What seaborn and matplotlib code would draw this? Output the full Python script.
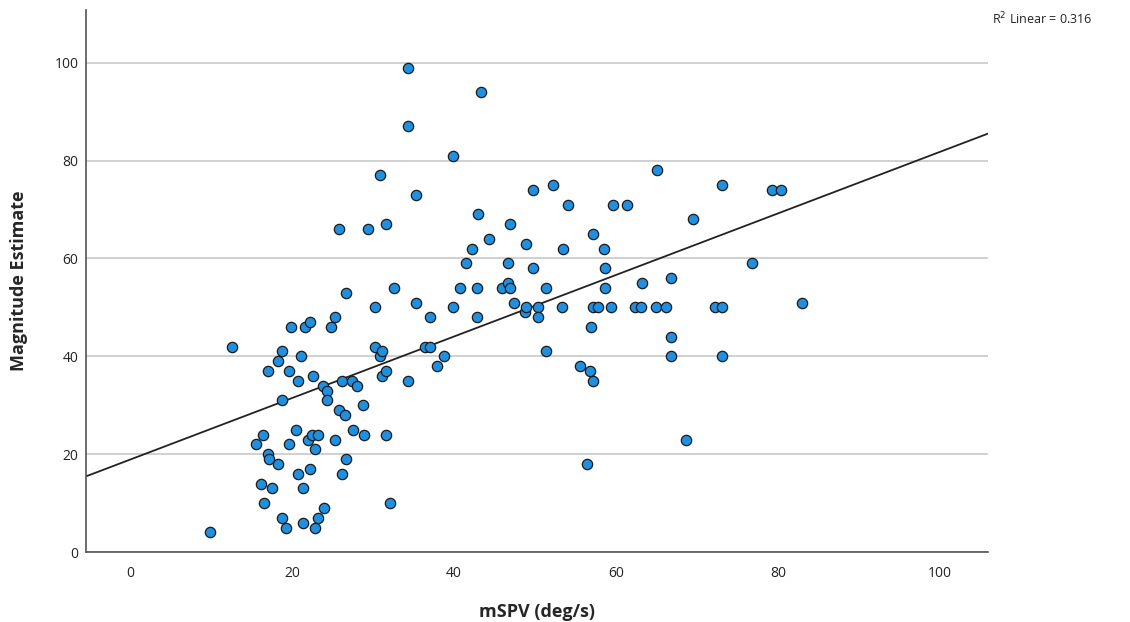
import numpy as np
import pandas as pd
import matplotlib
matplotlib.use("Agg")
import matplotlib.pyplot as plt
import seaborn as sns

mspv = [9.9, 12.6, 15.6, 16.4, 16.2, 16.5, 17.0, 17.0, 17.1, 17.5,
        18.3, 18.7, 18.3, 18.7, 18.7, 19.3, 19.6, 19.6, 19.9, 20.5,
        20.7, 20.7, 21.1, 21.4, 21.4, 21.6, 22.2, 22.0, 22.2, 22.6,
        22.5, 22.8, 22.8, 23.2, 23.2, 23.8, 24.0, 24.3, 24.3, 24.8,
        25.3, 25.3, 25.8, 25.8, 26.2, 26.2, 26.5, 26.7, 26.7, 27.4,
        27.5, 28.0, 28.8, 28.9, 29.4, 30.2, 30.2, 30.9, 30.9, 31.1,
        31.1, 31.6, 31.6, 31.6, 32.1, 32.6, 34.3, 34.3, 34.3, 35.3,
        35.3, 36.4, 37.0, 37.0, 37.9, 38.8, 39.9, 39.9, 40.7, 41.5,
        42.2, 42.8, 42.8, 43.3, 43.0, 44.3, 45.9, 46.7, 46.7, 46.9,
        46.9, 47.4, 48.8, 48.9, 48.9, 49.8, 49.8, 50.4, 50.4, 51.4,
        51.4, 52.2, 53.3, 53.5, 54.1, 55.6, 56.4, 56.8, 56.9, 57.2,
        57.2, 57.2, 57.8, 58.5, 58.6, 58.6, 59.4, 59.6, 61.4, 62.3,
        63.1, 63.2, 64.9, 65.1, 66.2, 66.8, 66.8, 66.8, 68.6, 69.5,
        72.2, 73.1, 73.1, 73.1, 76.8, 79.3, 80.4, 83.0]

magnitude = [4, 42, 22, 24, 14, 10, 37, 20, 19, 13,
             39, 41, 18, 31, 7, 5, 37, 22, 46, 25,
             35, 16, 40, 13, 6, 46, 47, 23, 17, 36,
             24, 21, 5, 24, 7, 34, 9, 33, 31, 46,
             48, 23, 66, 29, 35, 16, 28, 53, 19, 35,
             25, 34, 30, 24, 66, 50, 42, 40, 77, 41,
             36, 67, 37, 24, 10, 54, 99, 87, 35, 73,
             51, 42, 42, 48, 38, 40, 81, 50, 54, 59,
             62, 54, 48, 94, 69, 64, 54, 59, 55, 54,
             67, 51, 49, 63, 50, 74, 58, 50, 48, 41,
             54, 75, 50, 62, 71, 38, 18, 37, 46, 65,
             50, 35, 50, 62, 58, 54, 50, 71, 71, 50,
             50, 55, 50, 78, 50, 56, 44, 40, 23, 68,
             50, 50, 75, 40, 59, 74, 74, 51]

x_ticks = [0, 20, 40, 60, 80, 100]
y_ticks = [0, 20, 40, 60, 80, 100]
r2_label = "R$^2$ Linear = 0.316"

df = pd.DataFrame({"mSPV (deg/s)": mspv, "Magnitude Estimate": magnitude})

sns.set_style("white")
plt.rcParams["font.family"] = ["Open Sans", "DejaVu Sans"]

fig = plt.figure(figsize=(11.3, 6.22), dpi=100)
ax = fig.add_axes([0.0757, 0.1125, 0.7985, 0.8715])
ax.set_xlim(-5.5, 105.9)
ax.set_ylim(0, 110.8)

ax.set_yticks(y_ticks)
ax.set_xticks(x_ticks)
ax.yaxis.grid(True, color="#c8c8c8", linewidth=1.2)
ax.xaxis.grid(False)
ax.set_axisbelow(True)

sns.regplot(data=df, x="mSPV (deg/s)", y="Magnitude Estimate", ax=ax,
            scatter=False, ci=None, truncate=False,
            line_kws={"color": "#222222", "linewidth": 1.3, "zorder": 2})
sns.scatterplot(data=df, x="mSPV (deg/s)", y="Magnitude Estimate", ax=ax,
                color="#1f8fe0", edgecolor="#1a1a1a", linewidth=0.9,
                s=55, zorder=3)

ax.set_xlim(-5.5, 105.9)
ax.set_ylim(0, 110.8)

for side in ["top", "right"]:
    ax.spines[side].set_visible(False)
for side in ["left", "bottom"]:
    ax.spines[side].set_color("#555555")
    ax.spines[side].set_linewidth(1.2)

ax.tick_params(axis="y", direction="in", length=4, width=1, color="#555555",
               labelsize=10, labelcolor="#222222", pad=5)
ax.tick_params(axis="x", length=0, labelsize=10, labelcolor="#222222", pad=10)

ax.set_xlabel("mSPV (deg/s)", fontsize=13, fontweight="bold", labelpad=16)
ax.set_ylabel("Magnitude Estimate", fontsize=13, fontweight="bold", labelpad=19)

fig.text(0.967, 0.97, r2_label, ha="right", va="center", fontsize=9, color="#222222")

fig.savefig("out.png", dpi=100)
